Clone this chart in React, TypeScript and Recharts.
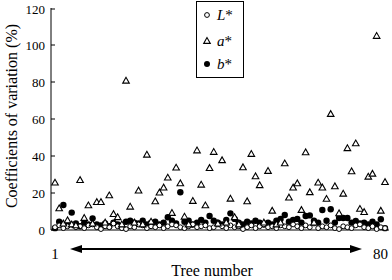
import { ScatterChart, Scatter, XAxis, YAxis, Legend } from "recharts";

const FONT = "Liberation Serif, Tinos, Times New Roman, Times, DejaVu Serif, serif";

// coefficient of variation (%) per tree, trees 1..80
const lStar = [
  1.5, 2.5, 1.0, 2.0, 3.0, 1.5, 2.0, 1.0, 2.5, 3.0,
  1.5, 0.5, 2.0, 1.5, 3.5, 2.0, 1.0, 0.5, 2.0, 1.5,
  3.0, 2.5, 1.0, 2.0, 1.5, 2.5, 1.0, 2.0, 3.0, 2.5,
  1.5, 1.0, 2.0, 3.0, 1.5, 2.0, 2.5, 1.0, 1.5, 3.0,
  2.0, 1.0, 2.5, 1.5, 2.0, 0.5, 1.5, 2.5, 1.0, 2.0,
  3.0, 1.5, 2.0, 1.0, 2.5, 2.0, 1.5, 3.0, 2.0, 1.0,
  2.5, 1.5, 3.5, 1.0, 2.0, 1.5, 2.5, 1.0, 0.5, 2.0,
  1.5, 1.0, 2.5, 3.0, 1.5, 1.0, 2.0, 0.5, 1.5, 1.0,
];

const aStar = [
  25.6, 11.7, 3.5, 5.2, 3.0, 2.5, 27.0, 6.5, 13.3, 3.5,
  15.1, 15.1, 4.0, 18.7, 8.6, 6.9, 3.0, 80.7, 12.6, 4.0,
  21.3, 3.0, 40.7, 4.5, 15.5, 20.2, 22.9, 28.3, 9.2, 33.7,
  25.2, 7.2, 3.0, 15.7, 43.0, 24.5, 13.3, 33.5, 42.2, 3.5,
  37.7, 4.0, 16.9, 6.9, 3.0, 33.9, 15.5, 41.1, 29.0, 24.2,
  4.0, 31.9, 10.4, 3.0, 4.0, 36.0, 17.5, 22.9, 25.2, 10.8,
  42.0, 20.4, 4.0, 25.6, 22.9, 16.8, 62.7, 23.6, 9.0, 19.6,
  44.2, 31.7, 46.8, 11.4, 9.7, 28.8, 30.4, 104.9, 10.4, 25.9,
];

const bStar = [
  1.0, 4.5, 13.5, 3.0, 9.4, 3.5, 2.0, 4.0, 3.0, 6.3,
  3.0, 2.5, 3.5, 2.0, 4.0, 3.0, 2.0, 4.5, 5.0, 4.0,
  3.5, 5.0, 3.0, 4.0, 4.5, 3.0, 4.0, 6.9, 5.0, 3.5,
  20.4, 4.5, 5.0, 3.0, 4.0, 5.5, 4.0, 7.6, 5.0, 4.0,
  3.0, 5.5, 9.0, 6.0, 4.0, 3.0, 4.5, 3.5, 5.0, 4.0,
  3.0, 4.0, 3.0, 5.0, 6.0, 8.1, 4.5, 5.5, 6.0, 4.0,
  7.6, 7.9, 5.0, 4.0, 10.8, 5.0, 11.2, 4.0, 6.5, 6.5,
  6.5, 4.0, 4.9, 3.5, 4.0, 3.0, 4.5, 3.0, 5.8, 1.0,
];

const yTicks = [0, 20, 40, 60, 80, 100, 120];
const xTicks = [1, 80];

const toPoints = (vals: number[]) => vals.map((v, i) => ({ tree: i + 1, cv: v }));

const OpenCircle = (p: any) => (
  <circle cx={p.cx} cy={p.cy} r={2.4} fill="#fff" stroke="#000" strokeWidth={1} />
);
const FilledCircle = (p: any) => <circle cx={p.cx} cy={p.cy} r={3.2} fill="#000" />;
const Triangle = (p: any) => (
  <polygon
    points={`${p.cx},${p.cy - 3.4} ${p.cx - 3.3},${p.cy + 2.4} ${p.cx + 3.3},${p.cy + 2.4}`}
    fill="#fff"
    stroke="#000"
    strokeWidth={1.1}
  />
);

const YTick = (p: any) => (
  <g>
    <line x1={p.x + 6} x2={p.x + 10} y1={p.y} y2={p.y} stroke="#000" />
    <text x={p.x} y={p.y} dy="0.355em" textAnchor="end" fontSize={13} fontFamily={FONT} fill="#000">
      {p.payload.value}
    </text>
  </g>
);

const XTick = (p: any) => (
  <text
    x={p.x}
    y={p.y}
    dy="0.71em"
    textAnchor={p.index === 0 ? "middle" : "end"}
    dx={p.index === 0 ? 0 : 4}
    fontSize={15}
    fontFamily={FONT}
    fill="#000"
  >
    {p.payload.value}
  </text>
);

const XLabel = (p: any) => {
  const vb = p.viewBox;
  const y = vb.y + 19;
  const x1 = vb.x + 19;
  const x2 = vb.x + vb.width - 27;
  return (
    <g>
      <line x1={x1 + 8} x2={x2 - 8} y1={y} y2={y} stroke="#000" strokeWidth={1.8} />
      <polygon points={`${x1},${y} ${x1 + 12},${y - 4} ${x1 + 12},${y + 4}`} fill="#000" />
      <polygon points={`${x2},${y} ${x2 - 12},${y - 4} ${x2 - 12},${y + 4}`} fill="#000" />
      <text x={vb.x + vb.width / 2 - 8} y={vb.y + 46} textAnchor="middle" fontSize={16} fontFamily={FONT} fill="#000">
        Tree number
      </text>
    </g>
  );
};

const YLabel = () => (
  <text
    x={16.5}
    y={116}
    transform="rotate(-90, 16.5, 116)"
    textAnchor="middle"
    fontSize={16}
    fontFamily={FONT}
    fill="#000"
  >
    Coefficients of variation (%)
  </text>
);

const legendRows = [
  { name: "L", icon: "open", top: 4 },
  { name: "a", icon: "tri", top: 30 },
  { name: "b", icon: "filled", top: 53 },
];

const LegendBox = () => (
  <div
    style={{
      position: "relative",
      width: 46,
      height: 75,
      border: "1px solid #000",
      background: "#fff",
      fontFamily: FONT,
      fontSize: 15,
      color: "#000",
    }}
  >
    {legendRows.map((r) => (
      <div key={r.name} style={{ position: "absolute", left: 5, top: r.top, height: 18, display: "flex", alignItems: "center" }}>
        <svg width={10} height={10} style={{ marginRight: 5 }}>
          {r.icon === "open" && <circle cx={5} cy={5} r={2.4} fill="#fff" stroke="#000" />}
          {r.icon === "filled" && <circle cx={5} cy={5} r={3} fill="#000" />}
          {r.icon === "tri" && <polygon points="5,1.6 1.7,7.4 8.3,7.4" fill="#fff" stroke="#000" strokeWidth={1.1} />}
        </svg>
        <span>
          <i>{r.name}</i>*
        </span>
      </div>
    ))}
  </div>
);

export default function App() {
  return (
    <div style={{ position: "absolute", left: 0, top: 0, background: "#fff" }}>
      <ScatterChart width={392} height={280} margin={{ top: 8, right: 3, bottom: 0, left: 0 }}>
        <XAxis
          type="number"
          dataKey="tree"
          domain={[1, 80]}
          ticks={xTicks}
          padding={{ left: 4, right: 4 }}
          height={50}
          tickLine={false}
          tickSize={0}
          tickMargin={18}
          axisLine={{ stroke: "#000" }}
          tick={XTick}
          label={{ content: XLabel }}
        />
        <YAxis
          type="number"
          dataKey="cv"
          domain={[0, 120]}
          ticks={yTicks}
          width={51}
          tickLine={false}
          tickSize={0}
          tickMargin={6}
          axisLine={{ stroke: "#000" }}
          tick={YTick}
          label={{ content: YLabel }}
        />
        <Legend
          layout="vertical"
          align="center"
          verticalAlign="middle"
          content={LegendBox}
          wrapperStyle={{ position: "absolute", left: 196, top: 1, width: 48 }}
        />
        <Scatter name="b*" data={toPoints(bStar)} shape={FilledCircle} isAnimationActive={false} />
        <Scatter name="L*" data={toPoints(lStar)} shape={OpenCircle} isAnimationActive={false} />
        <Scatter name="a*" data={toPoints(aStar)} shape={Triangle} isAnimationActive={false} />
      </ScatterChart>
    </div>
  );
}
